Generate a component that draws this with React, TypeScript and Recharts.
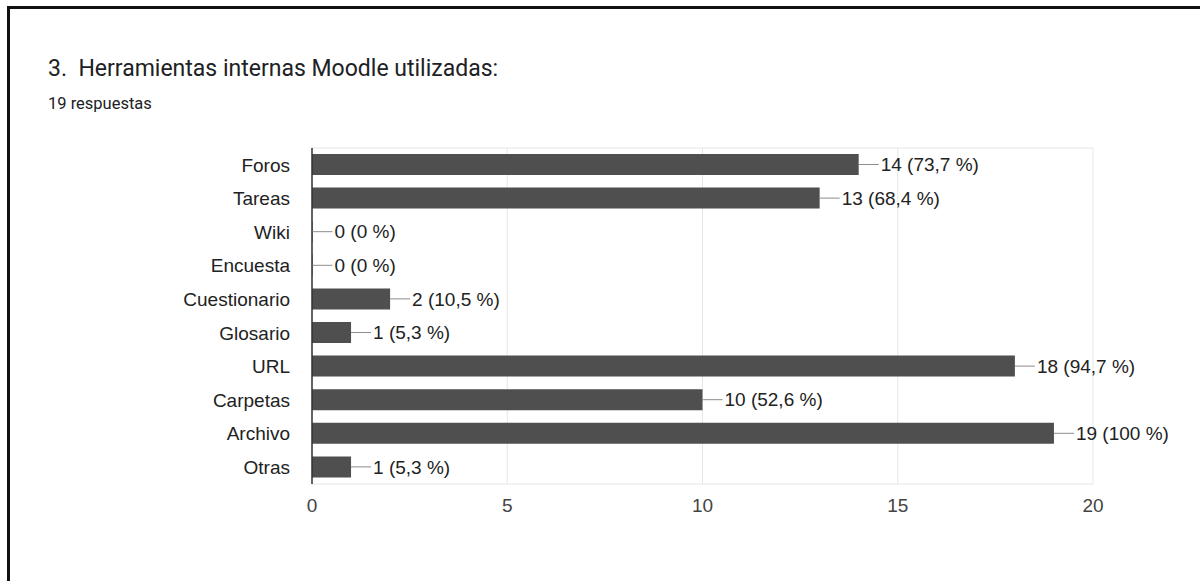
import { Bar, BarChart, CartesianGrid, LabelList, XAxis, YAxis } from "recharts";

const categories = [
  "Foros",
  "Tareas",
  "Wiki",
  "Encuesta",
  "Cuestionario",
  "Glosario",
  "URL",
  "Carpetas",
  "Archivo",
  "Otras",
];
const counts = [14, 13, 0, 0, 2, 1, 18, 10, 19, 1];
const totalResponses = 19;
const xTicks = [0, 5, 10, 15, 20];

const data = categories.map((name, i) => ({ name, value: counts[i] }));

const chartFont = '"Liberation Sans", Arial, sans-serif';

const formatPct = (v: number) => {
  const p = (v / totalResponses) * 100;
  const rounded = Math.round(p * 10) / 10;
  return Number.isInteger(rounded) ? String(rounded) : rounded.toFixed(1).replace(".", ",");
};

const ValueLabel = (props: any) => {
  const { x, y, width, height, value } = props;
  const endX = Number(x) + Number(width);
  const cy = Number(y) + Number(height) / 2;
  return (
    <g>
      <line x1={endX} x2={endX + 20} y1={cy} y2={cy} stroke="#8c8c8c" strokeWidth={1} />
      <text
        x={endX + 22}
        y={cy}
        dy="0.355em"
        fill="#222"
        fontSize={19}
        fontFamily={chartFont}
      >
        {`${value} (${formatPct(Number(value))} %)`}
      </text>
    </g>
  );
};

export default function App() {
  return (
    <div style={{ position: "absolute", left: 0, top: 0, width: 1200, height: 581, background: "#fff", overflow: "hidden" }}>
      <div
        style={{
          position: "absolute",
          left: 7,
          top: 6,
          width: 1193,
          height: 575,
          boxSizing: "border-box",
          borderTop: "3px solid #111",
          borderLeft: "3px solid #111",
        }}
      />
      <div
        style={{
          position: "absolute",
          left: 48,
          top: 55,
          fontFamily: "Roboto, sans-serif",
          fontSize: 23,
          color: "#202124",
          whiteSpace: "pre",
          lineHeight: "normal",
        }}
      >
        {"3.  Herramientas internas Moodle utilizadas:"}
      </div>
      <div
        style={{
          position: "absolute",
          left: 48,
          top: 94,
          fontFamily: "Roboto, sans-serif",
          fontSize: 16.5,
          color: "#202124",
          lineHeight: "normal",
        }}
      >
        {`${totalResponses} respuestas`}
      </div>

      <div style={{ position: "absolute", left: 0, top: 0 }}>
        <BarChart
          width={1200}
          height={581}
          data={data}
          layout="vertical"
          margin={{ top: 148, right: 107, bottom: 67, left: 0 }}
        >
          <CartesianGrid
            stroke="#e6e6e6"
            horizontalCoordinatesGenerator={({ offset }: any) => [offset.top, offset.top + offset.height]}
          />
          <XAxis
            type="number"
            domain={[0, 20]}
            ticks={xTicks}
            height={30}
            axisLine={false}
            tickLine={false}
            tickSize={0}
            tickMargin={15}
            tick={{ fill: "#444", fontSize: 19, fontFamily: chartFont }}
          />
          <YAxis
            type="category"
            dataKey="name"
            width={312}
            axisLine={{ stroke: "#333", strokeWidth: 1.5 }}
            tickLine={false}
            tickSize={0}
            tickMargin={22}
            interval={0}
            tick={{ fill: "#222", fontSize: 19, fontFamily: chartFont }}
          />
          <Bar dataKey="value" fill="#4f4f4f" barSize={21} minPointSize={0.5} isAnimationActive={false}>
            <LabelList dataKey="value" content={ValueLabel} />
          </Bar>
        </BarChart>
      </div>
    </div>
  );
}
